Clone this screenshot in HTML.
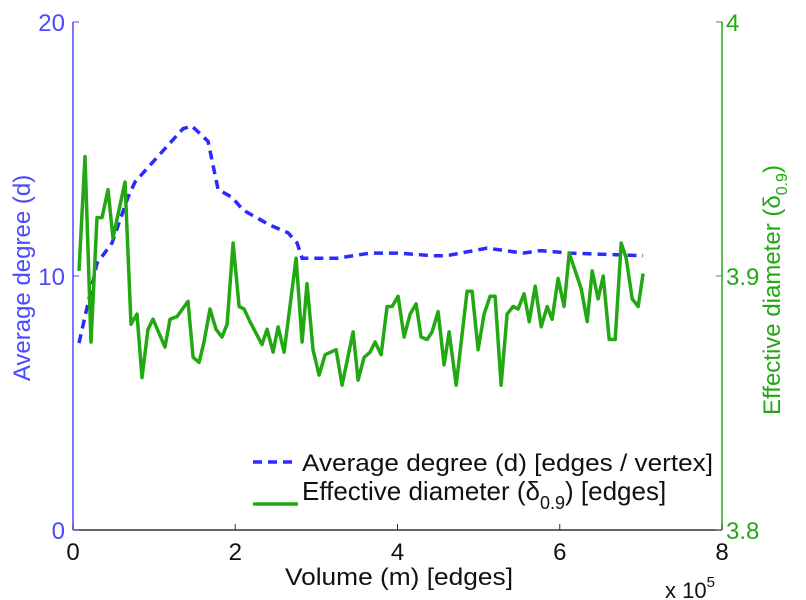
<!DOCTYPE html>
<html><head><meta charset="utf-8"><style>
html,body{margin:0;padding:0;background:#fff;}
svg{display:block;font-family:"Liberation Sans",Arial,sans-serif;}
</style></head><body>
<svg id="chart" width="806" height="600" viewBox="0 0 806 600" xmlns="http://www.w3.org/2000/svg"></svg>
<script>
const degX=[0.074,0.296,0.481,0.678,0.764,1.073,1.356,1.467,1.665,1.788,1.961,2.096,2.429,2.651,2.762,2.824,3.255,3.662,4.007,4.427,4.605,5.105,5.549,5.759,6.129,7.028];
const degVals=[7.36,10.5,11.3,13.1,13.7,14.8,15.8,15.9,15.3,13.4,13.1,12.6,12.0,11.7,11.3,10.7,10.7,10.9,10.9,10.8,10.8,11.1,10.9,11.0,10.9,10.8];
const diamX=[0.074,0.148,0.222,0.296,0.358,0.432,0.493,0.641,0.715,0.789,0.851,0.925,0.986,1.134,1.196,1.282,1.418,1.480,1.554,1.615,1.689,1.763,1.837,1.899,1.973,2.047,2.109,2.182,2.330,2.392,2.466,2.528,2.602,2.750,2.824,2.885,2.959,3.033,3.107,3.243,3.317,3.453,3.514,3.588,3.662,3.724,3.798,3.872,3.933,4.007,4.081,4.155,4.229,4.291,4.365,4.427,4.501,4.575,4.636,4.723,4.858,4.920,4.994,5.068,5.142,5.203,5.277,5.351,5.425,5.487,5.561,5.623,5.697,5.771,5.845,5.906,5.980,6.054,6.116,6.264,6.338,6.400,6.473,6.535,6.609,6.683,6.757,6.819,6.893,6.967,7.028];
const diamVals=[3.902,3.947,3.874,3.923,3.923,3.934,3.915,3.937,3.881,3.885,3.860,3.879,3.883,3.872,3.883,3.884,3.890,3.868,3.866,3.874,3.887,3.879,3.876,3.881,3.913,3.888,3.887,3.882,3.873,3.879,3.870,3.880,3.870,3.907,3.874,3.897,3.871,3.861,3.869,3.871,3.857,3.878,3.859,3.868,3.870,3.874,3.869,3.888,3.888,3.892,3.876,3.885,3.889,3.876,3.875,3.878,3.886,3.865,3.878,3.857,3.894,3.894,3.871,3.885,3.892,3.892,3.857,3.885,3.888,3.887,3.893,3.882,3.896,3.880,3.888,3.883,3.899,3.888,3.909,3.895,3.882,3.902,3.891,3.900,3.875,3.875,3.913,3.907,3.891,3.888,3.901];
const xTicks=[0,2,4,6,8];
const yLeftTicks=[0,10,20];
const yRightTicks=[3.8,3.9,4];

const NS="http://www.w3.org/2000/svg";
const svg=document.getElementById('chart');
const L=73,R=722,T=22,B=530;
const BLUE="#2b2bff",GREEN="#22a812",BLUEAX="#4a4aff";
const sx=v=>L+(v-0)/8*(R-L);
const syL=v=>B-(v/20)*(B-T);
const syR=v=>B-((v-3.8)/0.2)*(B-T);
function el(tag,attrs,parent){const e=document.createElementNS(NS,tag);for(const k in attrs)e.setAttribute(k,attrs[k]);(parent||svg).appendChild(e);return e;}

let a=el('line',{x1:L,y1:B,x2:R,y2:B,stroke:'#333','stroke-width':1.5});


a=el('line',{x1:L,y1:T,x2:L,y2:B,stroke:BLUEAX,'stroke-width':1.5});


a=el('line',{x1:R,y1:T,x2:R,y2:B,stroke:GREEN,'stroke-width':1.5});



xTicks.forEach(t=>{
  const x=sx(t);
  let tk=el('line',{x1:x,y1:B,x2:x,y2:B-6,stroke:'#333','stroke-width':1});
  
  
  let tx=el('text',{x:x,y:B+30,'text-anchor':'middle','font-size':24,fill:'#111'});
  tx.textContent=t;
  
  
});
yLeftTicks.forEach(t=>{
  const y=syL(t);
  let tk=el('line',{x1:L,y1:y,x2:L+6,y2:y,stroke:BLUEAX,'stroke-width':1});
  
  
  let tx=el('text',{x:L-8,y:y+9,'text-anchor':'end','font-size':24,fill:BLUEAX});
  tx.textContent=t;
  
  
});
yRightTicks.forEach(t=>{
  const y=syR(t);
  let tk=el('line',{x1:R,y1:y,x2:R-6,y2:y,stroke:GREEN,'stroke-width':1});
  
  
  let tx=el('text',{x:R+4,y:y+9,'text-anchor':'start','font-size':24,fill:GREEN});
  tx.textContent=t;
  
  
});

let pts=degX.map((x,i)=>sx(x).toFixed(1)+','+syL(degVals[i]).toFixed(1)).join(' ');
let p=el('polyline',{points:pts,fill:'none',stroke:BLUE,'stroke-width':3.5,'stroke-dasharray':'9,6'});


pts=diamX.map((x,i)=>sx(x).toFixed(1)+','+syR(diamVals[i]).toFixed(1)).join(' ');
p=el('polyline',{points:pts,fill:'none',stroke:GREEN,'stroke-width':3.5,'stroke-linejoin':'round'});


</script>
<svg style="position:absolute;left:0;top:0" width="806" height="600" xmlns="http://www.w3.org/2000/svg" font-family="Liberation Sans, Arial, sans-serif">
  <text x="285" y="585" textLength="228" lengthAdjust="spacingAndGlyphs" font-size="24" fill="#111">Volume (m) [edges]</text>
  <text x="665" y="598" font-size="22" fill="#111">x 10<tspan font-size="15" dy="-11">5</tspan></text>
  <text transform="translate(30,278) rotate(-90)" text-anchor="middle" font-size="24" fill="#4a4aff">Average degree (d)</text>
  <text transform="translate(780,290) rotate(-90)" text-anchor="middle" font-size="24" fill="#22a812">Effective diameter (δ<tspan font-size="16" dy="7">0.9</tspan><tspan dy="-7">)</tspan></text>
  <g>
    <line x1="253" y1="462" x2="298" y2="462" stroke="#2b2bff" stroke-width="3.5" stroke-dasharray="9,6"/>
    <text x="302" y="471" textLength="411" lengthAdjust="spacingAndGlyphs" font-size="24" fill="#111">Average degree (d) [edges / vertex]</text>
    <line x1="253" y1="504" x2="298" y2="504" stroke="#22a812" stroke-width="3.5"/>
    <text x="302" y="500" font-size="26" fill="#111">Effective diameter (δ<tspan font-size="18" dy="9">0.9</tspan><tspan dy="-9">) [edges]</tspan></text>
  </g>
</svg>
</body></html>
